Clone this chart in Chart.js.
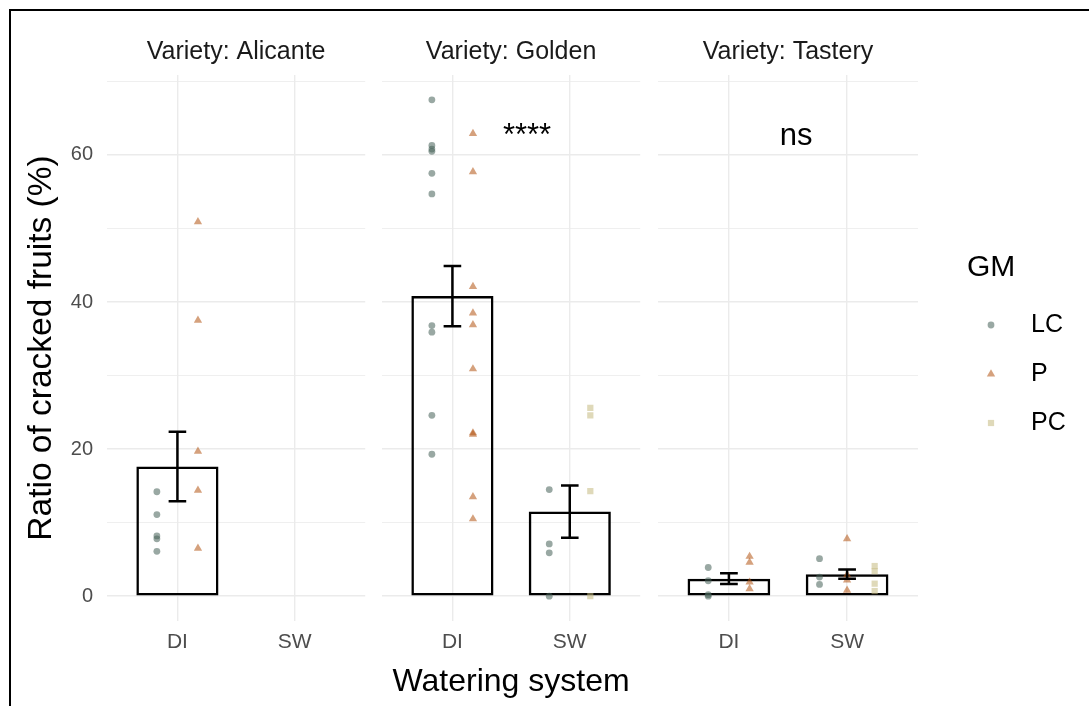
<!DOCTYPE html>
<html>
<head>
<meta charset="utf-8">
<title>Ratio of cracked fruits</title>
<script src="https://cdn.jsdelivr.net/npm/chart.js@4.4.1/dist/chart.umd.min.js"></script>
<style>
  html, body { margin: 0; padding: 0; background: #fff; }
  #figure { position: relative; width: 1089px; height: 706px; overflow: hidden; }
  #frame {
    position: absolute; left: 9px; top: 9px; width: 1200px; height: 800px;
    border-top: 2px solid #000; border-left: 2px solid #000;
  }
  #figure canvas { position: absolute; top: 0; }
</style>
</head>
<body>
<div id="figure">
  <div id="frame"></div>
  <canvas id="facet-alicante" width="370" height="706" style="left:0px"></canvas>
  <canvas id="facet-golden" width="270" height="706" style="left:375px"></canvas>
  <canvas id="facet-tastery" width="439" height="706" style="left:650px"></canvas>
</div>
<script>
Chart.defaults.font.family = "'Liberation Sans', Arial, Helvetica, sans-serif";

const WATERING = ["DI", "SW"];
const GM_LEVELS = ["LC", "P", "PC"];
const VARIETIES = ["Alicante", "Golden", "Tastery"];
const Y_GRID = [0, 10, 20, 30, 40, 50, 60, 70];
const Y_LABELS = [0, 20, 40, 60];

// Ratio of cracked fruits (%) per sample, as [DI, SW]
const alicanteLC = [[14.2, 11.1, 8.2, 7.8, 6.1], []];
const alicanteP = [[50.9, 37.5, 19.7, 14.4, 6.5], []];
const alicantePC = [[], []];
const goldenLC = [[67.5, 61.3, 60.8, 60.5, 57.5, 54.7, 36.8, 35.9, 24.6, 19.3], [14.5, 7.1, 5.9, 0]];
const goldenP = [[62.9, 57.7, 42.1, 38.5, 36.9, 30.9, 22.2, 22.0, 13.5, 10.5], []];
const goldenPC = [[], [25.6, 24.6, 14.3, 0]];
const tasteryLC = [[3.9, 2.1, 0.2, 0], [5.1, 2.6, 1.6]];
const tasteryP = [[5.4, 4.6, 1.9, 1.0], [7.8, 2.9, 2.2, 0.8]];
const tasteryPC = [[], [4.1, 3.4, 1.7, 0.7]];

// DI vs SW test result for each variety
const SIGNIF = ["", "****", "ns"];

const FACETS = [
  { canvas: "facet-alicante", variety: VARIETIES[0], groups: { LC: alicanteLC, P: alicanteP, PC: alicantePC }, signif: SIGNIF[0] },
  { canvas: "facet-golden", variety: VARIETIES[1], groups: { LC: goldenLC, P: goldenP, PC: goldenPC }, signif: SIGNIF[1] },
  { canvas: "facet-tastery", variety: VARIETIES[2], groups: { LC: tasteryLC, P: tasteryP, PC: tasteryPC }, signif: SIGNIF[2] },
];

const GM_STYLE = {
  LC: { pointStyle: "circle", radius: 3.4, color: "rgba(70, 96, 88, 0.55)" },
  P: { pointStyle: "triangle", radius: 4.8, color: "rgba(178, 84, 18, 0.55)" },
  PC: { pointStyle: "rect", radius: 4.4, color: "rgba(196, 186, 128, 0.55)" },
};

// panel frame inside each canvas (px)
const FRAME = {
  "facet-alicante": { padLeft: 0, padRight: 3, yAxisWidth: 107 },
  "facet-golden": { padLeft: 7, padRight: 3, yAxisWidth: 0 },
  "facet-tastery": { padLeft: 8, padRight: 171, yAxisWidth: 0 },
};

const DODGE_WIDTH = 0.7;
const CAP_WIDTH = 0.15;
const GRID_COLOR = "#ebebeb";

const mean = (a) => a.reduce((s, v) => s + v, 0) / a.length;
const stdErr = (a) => {
  const m = mean(a);
  return Math.sqrt(a.reduce((s, v) => s + (v - m) ** 2, 0) / (a.length - 1) / a.length);
};
const pooled = (facet, w) => GM_LEVELS.flatMap((g) => facet.groups[g][w]);

// ggplot-style 5% expansion around [0, max]
const yTop = Math.max(...FACETS.flatMap((f) => WATERING.flatMap((_, w) => {
  const vals = pooled(f, w);
  return vals.length ? [...vals, mean(vals) + stdErr(vals)] : [];
})));
const Y_MIN = -0.05 * yTop;
const Y_MAX = yTop * 1.05;

function barData(facet) {
  return WATERING.map((_, w) => {
    const vals = pooled(facet, w);
    return { x: w + 1, y: vals.length ? mean(vals) : null };
  });
}

function errorBarData(facet) {
  const pts = [];
  WATERING.forEach((_, w) => {
    const vals = pooled(facet, w);
    if (!vals.length) return;
    const c = w + 1, m = mean(vals), s = stdErr(vals);
    const lo = m - s, hi = m + s, h = CAP_WIDTH / 2;
    pts.push(
      { x: c, y: lo }, { x: c, y: hi }, { x: c, y: null },
      { x: c - h, y: hi }, { x: c + h, y: hi }, { x: c, y: null },
      { x: c - h, y: lo }, { x: c + h, y: lo }, { x: c, y: null }
    );
  });
  return pts;
}

// points dodged by GM within each watering system
function pointData(facet, gm) {
  const pts = [];
  WATERING.forEach((_, w) => {
    const present = GM_LEVELS.filter((g) => facet.groups[g][w].length);
    const idx = present.indexOf(gm);
    if (idx < 0) return;
    const n = present.length;
    const offset = (idx - (n - 1) / 2) * DODGE_WIDTH / n;
    facet.groups[gm][w].forEach((v) => pts.push({ x: w + 1 + offset, y: v }));
  });
  return pts;
}

const signifLabel = {
  id: "signifLabel",
  afterDatasetsDraw(chart, args, opts) {
    if (!opts.text) return;
    const { ctx, scales } = chart;
    ctx.save();
    ctx.font = "31px 'Liberation Sans', Arial, sans-serif";
    ctx.fillStyle = "#000";
    ctx.textAlign = "left";
    ctx.textBaseline = "alphabetic";
    ctx.fillText(opts.text, scales.x.getPixelForValue(opts.x), scales.y.getPixelForValue(opts.y));
    ctx.restore();
  },
};

const gmLegend = {
  id: "gmLegend",
  afterDraw(chart, args, opts) {
    if (!opts.show) return;
    const { ctx } = chart;
    ctx.save();
    ctx.textAlign = "left";
    ctx.textBaseline = "middle";
    ctx.fillStyle = "#000";
    ctx.font = "30px 'Liberation Sans', Arial, sans-serif";
    ctx.fillText("GM", opts.left, opts.top);
    ctx.font = "25px 'Liberation Sans', Arial, sans-serif";
    GM_LEVELS.forEach((g, i) => {
      const y = opts.top + opts.firstGap + i * opts.rowStep;
      const st = GM_STYLE[g];
      ctx.fillStyle = st.color;
      Chart.helpers.drawPoint(ctx, { pointStyle: st.pointStyle, radius: st.radius, borderWidth: 0, rotation: 0 }, opts.left + opts.keyX, y);
      ctx.fillStyle = "#000";
      ctx.fillText(g, opts.left + opts.labelX, y);
    });
    ctx.restore();
  },
};

FACETS.forEach((facet, fi) => {
  const frame = FRAME[facet.canvas];
  const first = fi === 0;
  const middle = fi === 1;
  const last = fi === FACETS.length - 1;

  const datasets = [
    {
      type: "bar",
      data: barData(facet),
      backgroundColor: "rgba(0, 0, 0, 0)",
      borderColor: "#000",
      borderWidth: 2.5,
      borderSkipped: false,
      barPercentage: 0.7,
      categoryPercentage: 1,
      order: 3,
    },
    ...GM_LEVELS.map((g) => ({
      type: "scatter",
      label: g,
      data: pointData(facet, g),
      pointStyle: GM_STYLE[g].pointStyle,
      pointRadius: GM_STYLE[g].radius,
      backgroundColor: GM_STYLE[g].color,
      borderColor: GM_STYLE[g].color,
      pointBorderWidth: 0,
      order: 1,
    })),
    {
      type: "line",
      data: errorBarData(facet),
      borderColor: "#000",
      borderWidth: 2.5,
      pointRadius: 0,
      fill: false,
      spanGaps: false,
      tension: 0,
      order: 0,
    },
  ];

  new Chart(document.getElementById(facet.canvas), {
    type: "bar",
    data: { datasets },
    plugins: [signifLabel, gmLegend],
    options: {
      responsive: false,
      animation: false,
      events: [],
      layout: { padding: { left: frame.padLeft, right: frame.padRight, top: 0, bottom: 0 } },
      plugins: {
        legend: { display: false },
        tooltip: { enabled: false },
        title: {
          display: true,
          fullSize: false,
          text: "Variety: " + facet.variety,
          color: "#1a1a1a",
          font: { size: 25, weight: "normal" },
          padding: { top: 37, bottom: 8 },
        },
        signifLabel: { text: facet.signif, x: 1.43, y: 61.3 },
        gmLegend: { show: last, left: 317, top: 268, firstGap: 57, rowStep: 49, keyX: 24, labelX: 64 },
      },
      scales: {
        x: {
          type: "linear",
          min: 0.4,
          max: 2.6,
          offset: false,
          afterBuildTicks: (s) => { s.ticks = WATERING.map((_, i) => ({ value: i + 1 })); },
          afterFit: (s) => { s.height = 85; },
          ticks: {
            callback: (v) => WATERING[v - 1],
            color: "#4d4d4d",
            font: { size: 21 },
            padding: 8.5,
            maxRotation: 0,
            autoSkip: false,
          },
          grid: { offset: false, color: GRID_COLOR, lineWidth: 1.4, drawTicks: false },
          border: { display: false },
          title: {
            display: middle,
            text: "Watering system",
            color: "#000",
            font: { size: 32 },
            padding: { top: 0, bottom: 4.8 },
          },
        },
        y: {
          type: "linear",
          min: Y_MIN,
          max: Y_MAX,
          afterBuildTicks: (s) => { s.ticks = Y_GRID.map((v) => ({ value: v })); },
          afterFit: (s) => { s.width = frame.yAxisWidth; },
          ticks: {
            display: first,
            callback: (v) => (Y_LABELS.includes(v) ? String(v) : ""),
            color: "#4d4d4d",
            font: { size: 20 },
            padding: 14,
            autoSkip: false,
          },
          grid: {
            color: GRID_COLOR,
            lineWidth: (ctx) => (ctx.tick && Y_LABELS.includes(ctx.tick.value) ? 1.4 : 0.8),
            drawTicks: false,
          },
          border: { display: false },
          title: {
            display: first,
            text: "Ratio of cracked fruits (%)",
            color: "#000",
            font: { size: 33.5 },
            padding: { top: 21.9, bottom: 0 },
          },
        },
      },
    },
  });
});
</script>
</body>
</html>
